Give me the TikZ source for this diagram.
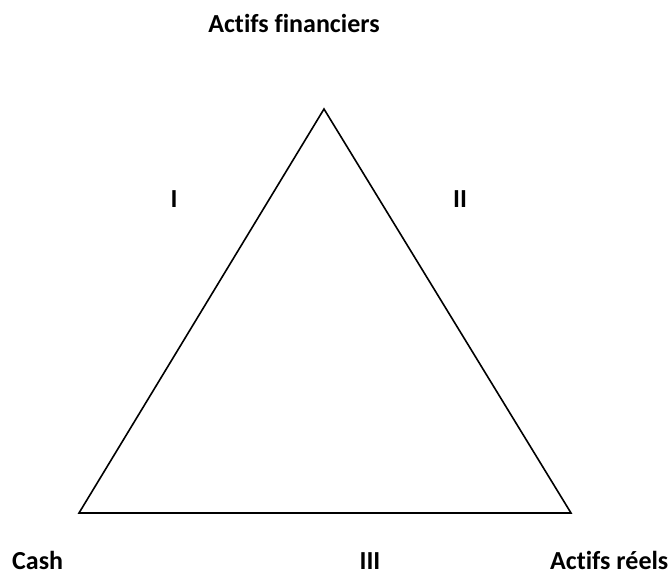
\documentclass[tikz,border=0pt]{standalone}
\usepackage{fontspec}
\setmainfont[Ligatures=NoCommon]{Carlito}
\begin{document}
\begin{tikzpicture}[x=1pt,y=-1pt,
  lbl/.style={font=\bfseries\fontsize{26}{31}\selectfont, inner sep=0pt, anchor=base, text depth=0pt},
  tri/.style={draw=black, line width=1.6pt, line join=miter}]
\useasboundingbox (0,0) rectangle (670,573);
\coordinate (top) at (324,109);
\coordinate (bl) at (79,513);
\coordinate (br) at (571,513);
\draw[tri] (top) -- (bl) -- (br) -- cycle;
\node[lbl] (af) at (294,32) {Actifs financiers};
\node[lbl] (i) at (174,207) {I};
\node[lbl] (ii) at (460,207) {II};
\node[lbl, anchor=base west] (cash) at (12,569) {Cash};
\node[lbl] (iii) at (370,569) {III};
\node[lbl, anchor=base west] (ar) at (550,569) {Actifs réels};
\end{tikzpicture}
\end{document}
